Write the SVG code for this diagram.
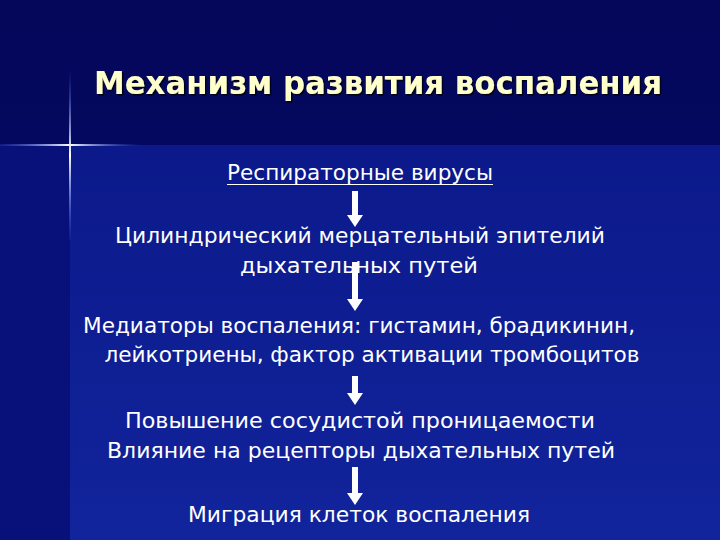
<svg xmlns="http://www.w3.org/2000/svg" width="720" height="540" viewBox="0 0 720 540">
  <defs>
    <linearGradient id="bgTop" x1="0" y1="0" x2="0" y2="1">
      <stop offset="0" stop-color="#04075a"/>
      <stop offset="1" stop-color="#060d6c"/>
    </linearGradient>
    <linearGradient id="bgMain" x1="0" y1="0" x2="0" y2="1">
      <stop offset="0" stop-color="#0b198a"/>
      <stop offset="1" stop-color="#12249c"/>
    </linearGradient>
    <linearGradient id="hLine" x1="0" y1="0" x2="1" y2="0">
      <stop offset="0" stop-color="#3a60ff" stop-opacity="0.2"/>
      <stop offset="0.5" stop-color="#ffffff" stop-opacity="1"/>
      <stop offset="1" stop-color="#3a60ff" stop-opacity="0"/>
    </linearGradient>
    <linearGradient id="vLine" x1="0" y1="0" x2="0" y2="1">
      <stop offset="0" stop-color="#3a60ff" stop-opacity="0"/>
      <stop offset="0.5" stop-color="#ffffff" stop-opacity="1"/>
      <stop offset="1" stop-color="#3a60ff" stop-opacity="0.1"/>
    </linearGradient>
    <marker id="head" viewBox="0 0 12 16" refX="1" refY="8" markerWidth="12" markerHeight="16" markerUnits="userSpaceOnUse" orient="auto">
      <path d="M0 0 L12 8 L0 16 Z" fill="#ffffff"/>
    </marker>
    <filter id="shadow" x="-5%" y="-20%" width="110%" height="140%">
      <feDropShadow dx="1.5" dy="1.5" stdDeviation="0.5" flood-color="#000000" flood-opacity="0.8"/>
    </filter>
  </defs>
  <style>
    .t { font-family: "DejaVu Sans", "Liberation Sans", sans-serif; font-size: 21px; fill: #ffffff; text-anchor: middle; }
    .title { font-family: "DejaVu Sans", "Liberation Sans", sans-serif; font-size: 32px; font-weight: bold; fill: #ffffcc; text-anchor: middle; }
  </style>

  <rect x="0" y="0" width="720" height="540" fill="url(#bgTop)"/>
  <rect x="0" y="145" width="70" height="395" fill="#08117a"/>
  <rect x="70" y="145" width="650" height="395" fill="url(#bgMain)"/>

  <g id="star">
    <rect x="0" y="144" width="140" height="2" fill="url(#hLine)"/>
    <rect x="69" y="70" width="2" height="170" fill="url(#vLine)"/>
  </g>

  <g id="title">
    <text class="title" x="378" y="94" textLength="568" lengthAdjust="spacingAndGlyphs" filter="url(#shadow)">Механизм развития воспаления</text>
  </g>

  <g id="n1">
    <text class="t" x="360" y="180" textLength="266" lengthAdjust="spacingAndGlyphs">Респираторные вирусы</text>
    <line x1="227" y1="184.5" x2="493" y2="184.5" stroke="#ffffff" stroke-width="1.2"/>
  </g>
  <g id="n2">
    <text class="t" x="360" y="243" textLength="490" lengthAdjust="spacingAndGlyphs">Цилиндрический мерцательный эпителий</text>
    <text class="t" x="359" y="273" textLength="238" lengthAdjust="spacingAndGlyphs">дыхательных путей</text>
  </g>
  <g id="n3">
    <text class="t" x="359" y="333" textLength="552" lengthAdjust="spacingAndGlyphs">Медиаторы воспаления: гистамин, брадикинин,</text>
    <text class="t" x="372" y="362" textLength="535" lengthAdjust="spacingAndGlyphs">лейкотриены, фактор активации тромбоцитов</text>
  </g>
  <g id="n4">
    <text class="t" x="360" y="428" textLength="470" lengthAdjust="spacingAndGlyphs">Повышение сосудистой проницаемости</text>
    <text class="t" x="361" y="458" textLength="508" lengthAdjust="spacingAndGlyphs">Влияние на рецепторы дыхательных путей</text>
  </g>
  <g id="n5">
    <text class="t" x="359" y="522" textLength="342" lengthAdjust="spacingAndGlyphs">Миграция клеток воспаления</text>
  </g>

  <g id="connectors" stroke="#ffffff" stroke-width="6" marker-end="url(#head)">
    <line x1="355" y1="191" x2="355" y2="216"/>
    <line x1="355" y1="262" x2="355" y2="300"/>
    <line x1="355" y1="376" x2="355" y2="394"/>
    <line x1="355" y1="467" x2="355" y2="494"/>
  </g>
</svg>
